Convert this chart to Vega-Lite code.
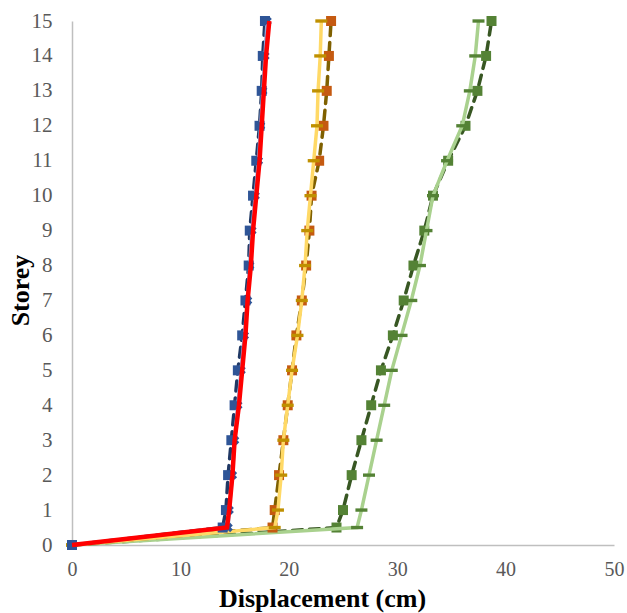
{
  "$schema": "https://vega.github.io/schema/vega-lite/v6.json",
  "autosize": "none",
  "width": 542,
  "height": 524,
  "padding": {"left": 72, "top": 21, "right": 13, "bottom": 68},
  "background": "#ffffff",
  "config": {
    "view": {"stroke": null},
    "axis": {
      "grid": false, "ticks": false, "tickSize": 0,
      "domainColor": "#BFBFBF", "domainWidth": 1.5,
      "labelFont": "Liberation Serif, Times New Roman, serif", "labelFontSize": 21, "labelColor": "#595959",
      "labelFlush": false, "labelOverlap": false,
      "titleFont": "Liberation Serif, Times New Roman, serif", "titleFontSize": 26, "titleFontWeight": "bold", "titleColor": "#000000"
    }
  },
  "data": {"values": [
    {"s":"GD","storey":0,"d":0},{"s":"GD","storey":0.5,"d":24.4},{"s":"GD","storey":1,"d":25.0},{"s":"GD","storey":2,"d":25.8},{"s":"GD","storey":3,"d":26.7},{"s":"GD","storey":4,"d":27.6},{"s":"GD","storey":5,"d":28.5},{"s":"GD","storey":6,"d":29.6},{"s":"GD","storey":7,"d":30.6},{"s":"GD","storey":8,"d":31.5},{"s":"GD","storey":9,"d":32.5},{"s":"GD","storey":10,"d":33.3},{"s":"GD","storey":11,"d":34.7},{"s":"GD","storey":12,"d":36.3},{"s":"GD","storey":13,"d":37.4},{"s":"GD","storey":14,"d":38.2},{"s":"GD","storey":15,"d":38.7},
    {"s":"GL","storey":0,"d":0},{"s":"GL","storey":0.5,"d":26.3},{"s":"GL","storey":1,"d":26.7},{"s":"GL","storey":2,"d":27.4},{"s":"GL","storey":3,"d":28.1},{"s":"GL","storey":4,"d":28.8},{"s":"GL","storey":5,"d":29.5},{"s":"GL","storey":6,"d":30.4},{"s":"GL","storey":7,"d":31.3},{"s":"GL","storey":8,"d":32.1},{"s":"GL","storey":9,"d":32.7},{"s":"GL","storey":10,"d":33.3},{"s":"GL","storey":11,"d":34.6},{"s":"GL","storey":12,"d":36.0},{"s":"GL","storey":13,"d":36.7},{"s":"GL","storey":14,"d":37.2},{"s":"GL","storey":15,"d":37.5},
    {"s":"OD","storey":0,"d":0},{"s":"OD","storey":0.5,"d":18.5},{"s":"OD","storey":1,"d":18.7},{"s":"OD","storey":2,"d":19.1},{"s":"OD","storey":3,"d":19.5},{"s":"OD","storey":4,"d":19.9},{"s":"OD","storey":5,"d":20.3},{"s":"OD","storey":6,"d":20.7},{"s":"OD","storey":7,"d":21.2},{"s":"OD","storey":8,"d":21.6},{"s":"OD","storey":9,"d":21.9},{"s":"OD","storey":10,"d":22.1},{"s":"OD","storey":11,"d":22.8},{"s":"OD","storey":12,"d":23.2},{"s":"OD","storey":13,"d":23.5},{"s":"OD","storey":14,"d":23.7},{"s":"OD","storey":15,"d":23.9},
    {"s":"YL","storey":0,"d":0},{"s":"YL","storey":0.5,"d":18.7},{"s":"YL","storey":1,"d":19.0},{"s":"YL","storey":2,"d":19.3},{"s":"YL","storey":3,"d":19.5},{"s":"YL","storey":4,"d":19.9},{"s":"YL","storey":5,"d":20.3},{"s":"YL","storey":6,"d":20.8},{"s":"YL","storey":7,"d":21.2},{"s":"YL","storey":8,"d":21.5},{"s":"YL","storey":9,"d":21.7},{"s":"YL","storey":10,"d":22.0},{"s":"YL","storey":11,"d":22.3},{"s":"YL","storey":12,"d":22.6},{"s":"YL","storey":13,"d":22.7},{"s":"YL","storey":14,"d":22.9},{"s":"YL","storey":15,"d":23.0},
    {"s":"BD","storey":0,"d":0},{"s":"BD","storey":0.5,"d":13.9},{"s":"BD","storey":1,"d":14.2},{"s":"BD","storey":2,"d":14.4},{"s":"BD","storey":3,"d":14.7},{"s":"BD","storey":4,"d":15.0},{"s":"BD","storey":5,"d":15.3},{"s":"BD","storey":6,"d":15.7},{"s":"BD","storey":7,"d":16.0},{"s":"BD","storey":8,"d":16.3},{"s":"BD","storey":9,"d":16.4},{"s":"BD","storey":10,"d":16.7},{"s":"BD","storey":11,"d":17.0},{"s":"BD","storey":12,"d":17.3},{"s":"BD","storey":13,"d":17.5},{"s":"BD","storey":14,"d":17.6},{"s":"BD","storey":15,"d":17.8},
    {"s":"BL","storey":0,"d":0},{"s":"BL","storey":0.5,"d":14.4},{"s":"BL","storey":1,"d":14.5},{"s":"BL","storey":2,"d":14.8},{"s":"BL","storey":3,"d":15.0},{"s":"BL","storey":4,"d":15.3},{"s":"BL","storey":5,"d":15.6},{"s":"BL","storey":6,"d":15.9},{"s":"BL","storey":7,"d":16.2},{"s":"BL","storey":8,"d":16.4},{"s":"BL","storey":9,"d":16.6},{"s":"BL","storey":10,"d":16.9},{"s":"BL","storey":11,"d":17.2},{"s":"BL","storey":12,"d":17.4},{"s":"BL","storey":13,"d":17.6},{"s":"BL","storey":14,"d":17.8},{"s":"BL","storey":15,"d":18.0},
    {"s":"R","storey":0,"d":0},{"s":"R","storey":0.5,"d":14.3},{"s":"R","storey":1,"d":14.5},{"s":"R","storey":2,"d":14.8},{"s":"R","storey":3,"d":15.0},{"s":"R","storey":4,"d":15.4},{"s":"R","storey":5,"d":15.7},{"s":"R","storey":6,"d":16.0},{"s":"R","storey":7,"d":16.2},{"s":"R","storey":8,"d":16.5},{"s":"R","storey":9,"d":16.7},{"s":"R","storey":10,"d":17.0},{"s":"R","storey":11,"d":17.3},{"s":"R","storey":12,"d":17.5},{"s":"R","storey":13,"d":17.7},{"s":"R","storey":14,"d":17.9},{"s":"R","storey":15,"d":18.2}
  ]},
  "encoding": {
    "x": {"field": "d", "type": "quantitative", "scale": {"domain": [0, 50], "nice": false},
      "axis": {"values": [0, 10, 20, 30, 40, 50], "labelFontSize": 20, "labelPadding": 14, "title": "Displacement (cm)",
        "titleX": 250, "titleY": 61, "titleBaseline": "alphabetic", "titleAlign": "center"}},
    "y": {"field": "storey", "type": "quantitative", "scale": {"domain": [0, 15], "nice": false},
      "axis": {"values": [0,1,2,3,4,5,6,7,8,9,10,11,12,13,14,15], "labelFontSize": 21, "labelPadding": 20, "title": "Storey",
        "titleX": -44, "titleY": 269, "titleAngle": -90, "titleBaseline": "alphabetic", "titleAlign": "center"}},
    "order": {"field": "storey", "type": "quantitative"}
  },
  "layer": [
    {"transform": [{"filter": "datum.s == 'GD'"}], "mark": {"type": "line", "color": "#385723", "strokeWidth": 3.5, "strokeDash": [10, 7], "strokeCap": "round"}},
    {"transform": [{"filter": "datum.s == 'GD'"}], "mark": {"type": "point", "shape": "square", "filled": true, "size": 100, "color": "#548235", "opacity": 1}},
    {"transform": [{"filter": "datum.s == 'GL'"}], "mark": {"type": "line", "color": "#A9D18E", "strokeWidth": 3.5}},
    {"transform": [{"filter": "datum.s == 'GL'"}], "mark": {"type": "point", "shape": "M-1,-0.28L1,-0.28L1,0.28L-1,0.28Z", "filled": true, "size": 144, "color": "#548235", "opacity": 1}},
    {"transform": [{"filter": "datum.s == 'OD'"}], "mark": {"type": "line", "color": "#7F6000", "strokeWidth": 3.5, "strokeDash": [10, 7], "strokeCap": "round"}},
    {"transform": [{"filter": "datum.s == 'OD'"}], "mark": {"type": "point", "shape": "square", "filled": true, "size": 100, "color": "#C55A11", "opacity": 1}},
    {"transform": [{"filter": "datum.s == 'YL'"}], "mark": {"type": "line", "color": "#FFD966", "strokeWidth": 3.5}},
    {"transform": [{"filter": "datum.s == 'YL'"}], "mark": {"type": "point", "shape": "M-1,-0.28L1,-0.28L1,0.28L-1,0.28Z", "filled": true, "size": 144, "color": "#BF9000", "opacity": 1}},
    {"transform": [{"filter": "datum.s == 'BD'"}], "mark": {"type": "line", "color": "#203864", "strokeWidth": 3.5, "strokeDash": [10, 7], "strokeCap": "round"}},
    {"transform": [{"filter": "datum.s == 'BD'"}], "mark": {"type": "point", "shape": "square", "filled": true, "size": 100, "color": "#2F5597", "opacity": 1}},
    {"transform": [{"filter": "datum.s == 'BL'"}], "mark": {"type": "line", "color": "#8FAADC", "strokeWidth": 3.5}},
    {"transform": [{"filter": "datum.s == 'BL'"}], "mark": {"type": "point", "shape": "cross", "angle": 45, "filled": true, "size": 90, "color": "#2F5597", "opacity": 1}},
    {"transform": [{"filter": "datum.s == 'R'"}], "mark": {"type": "line", "color": "#FF0000", "strokeWidth": 4.5}}
  ]
}
